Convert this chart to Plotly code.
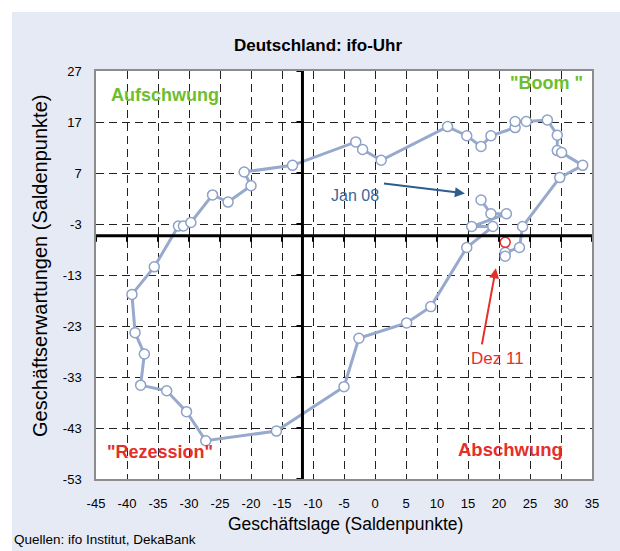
import plotly.graph_objects as go

# ---- data (ifo clock, Jan 2008 - Nov 2011, Dez 2011 separately) ----
months = [
    "Jan 08", "Feb 08", "Mar 08", "Apr 08", "Mai 08", "Jun 08", "Jul 08", "Aug 08", "Sep 08", "Okt 08", "Nov 08", "Dez 08",
    "Jan 09", "Feb 09", "Mar 09", "Apr 09", "Mai 09", "Jun 09", "Jul 09", "Aug 09", "Sep 09", "Okt 09", "Nov 09", "Dez 09",
    "Jan 10", "Feb 10", "Mar 10", "Apr 10", "Mai 10", "Jun 10", "Jul 10", "Aug 10", "Sep 10", "Okt 10", "Nov 10", "Dez 10",
    "Jan 11", "Feb 11", "Mar 11", "Apr 11", "Mai 11", "Jun 11", "Jul 11", "Aug 11", "Sep 11", "Okt 11", "Nov 11",
]
lage = [
    17.1, 18.7, 21.2, 15.6, 19.0, 14.8, 9.0, 5.1, -2.6, -5.0, -15.9, -27.3,
    -30.4, -33.6, -37.8, -37.2, -38.7, -39.2, -35.6, -31.7, -30.9, -29.7, -26.2, -23.7,
    -20.0, -21.1, -13.3, -3.1, -2.0, 1.0, 11.7, 14.8, 17.1, 18.7, 22.6, 22.6,
    24.4, 27.8, 29.4, 29.4, 30.1, 33.5, 29.8, 23.8, 23.3, 21.0, 21.0,
]
erwartungen = [
    1.7, -1.0, -1.0, -3.5, -3.5, -7.6, -19.2, -22.4, -25.4, -34.9, -43.6, -45.5,
    -39.8, -35.7, -34.6, -28.5, -24.3, -16.8, -11.4, -3.4, -3.4, -2.7, 2.7, 1.3,
    4.5, 7.2, 8.5, 13.1, 11.6, 9.5, 16.1, 14.3, 12.2, 14.3, 15.9, 17.1,
    17.1, 17.4, 14.4, 11.4, 11.0, 8.5, 6.1, -3.5, -7.6, -8.6, -9.3,
]
latest_label = ["Dez 11"]
latest_lage = [21.0]
latest_erw = [-6.6]

x_ticks = list(range(-45, 36, 5))
y_ticks = list(range(-53, 28, 10))

# axis crossing (long-term averages)
X_CROSS = -11.7
Y_CROSS = -5.3

FONT = "Liberation Sans, Arial, sans-serif"
GREEN = "#6DBE2E"
RED = "#E5302A"
BG = "#E6EAF4"

W, H = 620, 551
ML, MR, MT, MB = 96, 28, 71, 72
PW, PH = W - ML - MR, H - MT - MB


def px(xp):  # page pixel x -> paper fraction
    return (xp - ML) / PW


def py(yp):  # page pixel y -> paper fraction
    return (H - MB - yp) / PH


fig = go.Figure()

fig.add_trace(go.Scatter(
    x=lage, y=erwartungen, text=months, mode="lines+markers",
    line=dict(color="#97A9CD", width=3),
    marker=dict(symbol="circle", size=10, color="white",
                line=dict(color="#8EA1C7", width=1.5)),
    showlegend=False, hoverinfo="text+x+y",
))
fig.add_trace(go.Scatter(
    x=latest_lage, y=latest_erw, text=latest_label, mode="markers",
    marker=dict(symbol="circle", size=10, color="white",
                line=dict(color=RED, width=1.5)),
    showlegend=False, hoverinfo="text+x+y",
))

shapes = []
# white margin strips (top / left), 12px wide
shapes.append(dict(type="rect", xref="paper", yref="paper", x0=px(-5), x1=px(700),
                   y0=py(12), y1=py(-5), fillcolor="white", line_width=0, layer="below"))
shapes.append(dict(type="rect", xref="paper", yref="paper", x0=px(-5), x1=px(12),
                   y0=py(700), y1=py(-5), fillcolor="white", line_width=0, layer="below"))
# bold axes
shapes.append(dict(type="line", xref="x", yref="y", x0=-45, x1=35, y0=Y_CROSS, y1=Y_CROSS,
                   line=dict(color="black", width=3)))
shapes.append(dict(type="line", xref="x", yref="y", x0=X_CROSS, x1=X_CROSS, y0=-53, y1=27,
                   line=dict(color="black", width=3)))
for xv in x_ticks:
    shapes.append(dict(type="line", xref="x", yref="y", ysizemode="pixel", yanchor=Y_CROSS,
                       x0=xv, x1=xv, y0=0, y1=-6, line=dict(color="black", width=2)))
for yv in y_ticks:
    shapes.append(dict(type="line", xref="x", yref="y", xsizemode="pixel", xanchor=X_CROSS,
                       y0=yv, y1=yv, x0=-6, x1=0, line=dict(color="black", width=2)))

annotations = [
    dict(text="<b>Deutschland: ifo-Uhr</b>", xref="paper", yref="paper",
         x=px(318), y=py(45), xanchor="center", yanchor="middle", showarrow=False,
         font=dict(family=FONT, size=17, color="black")),
    dict(text="Geschäftslage (Saldenpunkte)", xref="paper", yref="paper",
         x=px(345), y=py(524), xanchor="center", yanchor="middle", showarrow=False,
         font=dict(family=FONT, size=17.5, color="black")),
    dict(text="Geschäftserwartungen (Saldenpunkte)", xref="paper", yref="paper",
         x=px(40), y=py(266), xanchor="center", yanchor="middle", showarrow=False,
         textangle=-90, font=dict(family=FONT, size=20, color="black")),
    dict(text="Quellen: ifo Institut, DekaBank", xref="paper", yref="paper",
         x=px(12), y=py(539), xanchor="left", yanchor="middle", showarrow=False,
         font=dict(family=FONT, size=13.5, color="black")),
    dict(text="<b>Aufschwung</b>", x=-33.9, y=22.3, showarrow=False,
         font=dict(family=FONT, size=18, color=GREEN)),
    dict(text="<b>\"Boom \"</b>", x=27.6, y=24.6, showarrow=False,
         font=dict(family=FONT, size=18, color=GREEN)),
    dict(text="<b>\"Rezession\"</b>", x=-34.7, y=-47.7, showarrow=False,
         font=dict(family=FONT, size=18, color=RED)),
    dict(text="<b>Abschwung</b>", x=21.8, y=-47.3, showarrow=False,
         font=dict(family=FONT, size=18.5, color=RED)),
    dict(text="Jan 08", x=-3.2, y=2.5, showarrow=False,
         font=dict(family=FONT, size=16, color="#3A6698")),
    dict(text="", x=14.5, y=3.0, ax=1.2, ay=5.0, axref="x", ayref="y",
         showarrow=True, arrowhead=2, arrowsize=1, arrowwidth=2, arrowcolor="#2F5C8F"),
    dict(text="Dez 11", x=19.7, y=-29.3, showarrow=False,
         font=dict(family=FONT, size=17, color=RED)),
    dict(text="", x=19.5, y=-11.7, ax=17.2, ay=-26.9, axref="x", ayref="y",
         showarrow=True, arrowhead=2, arrowsize=1, arrowwidth=2, arrowcolor=RED),
]

axis_common = dict(
    showgrid=True, gridcolor="#222", gridwidth=1, griddash="8px,5px",
    zeroline=False, showline=True, mirror=True, linecolor="#8c8c8c", linewidth=1.5,
    ticks="outside", tickcolor="rgba(0,0,0,0)",
    tickfont=dict(family=FONT, size=13, color="black"),
)
fig.update_xaxes(range=[-45, 35], tickmode="array", tickvals=x_ticks,
                 ticktext=[str(v) for v in x_ticks], ticklen=12, **axis_common)
fig.update_yaxes(range=[-53, 27], tickmode="array", tickvals=y_ticks,
                 ticktext=[str(v) for v in y_ticks], ticklen=10, **axis_common)

fig.update_layout(
    width=W, height=H,
    margin=dict(l=ML, r=MR, t=MT, b=MB),
    paper_bgcolor=BG, plot_bgcolor="white",
    shapes=shapes, annotations=annotations,
    showlegend=False,
)

# remove the default page margin so the 620x551 figure fills the window exactly
fig.write_html(
    "out.html",
    config={"displayModeBar": False},
    post_script="document.body.style.margin='0';document.body.style.overflow='hidden';",
)
